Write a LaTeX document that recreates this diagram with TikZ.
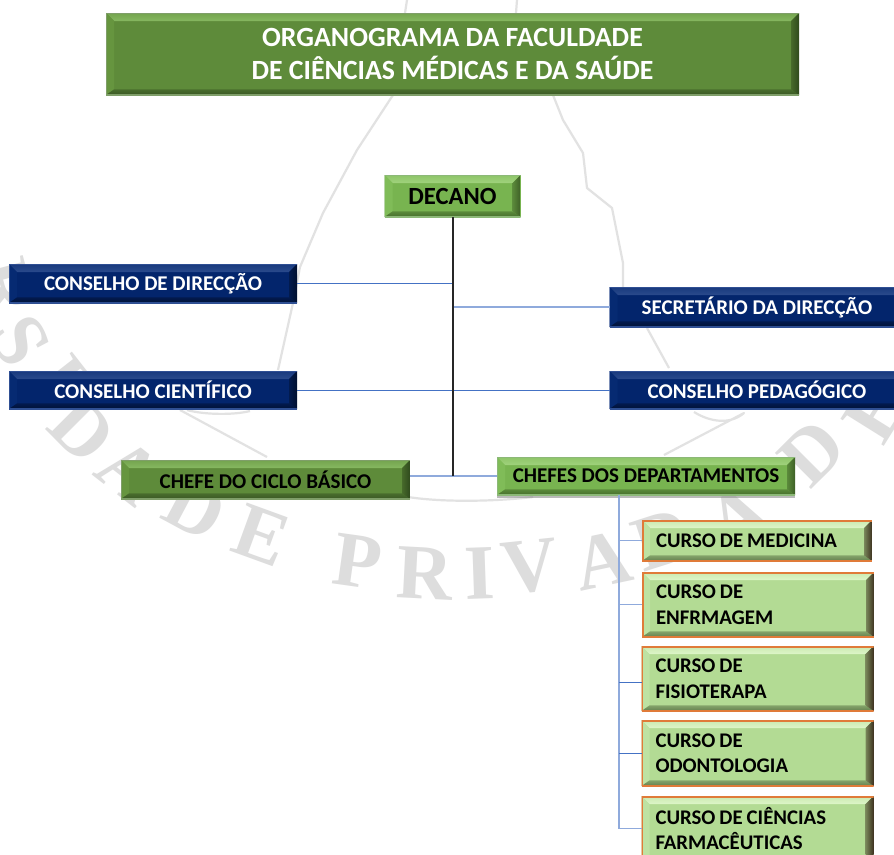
\documentclass[tikz,border=0pt]{standalone}
\usepackage{fontspec}
\setmainfont{Carlito}
\newfontfamily\wmfont{Liberation Serif}
\usetikzlibrary{shadows}
\definecolor{wm}{HTML}{DDDDDD}
\definecolor{wmlight}{HTML}{E2E2E2}
\definecolor{conA}{HTML}{4472C4}
\definecolor{conB}{HTML}{8FAADC}
\tikzset{
  x=1pt,y=-1pt,
  bevelbox/.style n args={8}{rectangle,inner sep=0pt,outer sep=0pt,fill=#1,font=\bfseries,
    path picture={
      \def\bv{#7pt}
      \coordinate (nw) at (path picture bounding box.north west);
      \coordinate (ne) at (path picture bounding box.north east);
      \coordinate (sw) at (path picture bounding box.south west);
      \coordinate (se) at (path picture bounding box.south east);
      \coordinate (inw) at ([xshift=\bv,yshift=-\bv]nw);
      \coordinate (ine) at ([xshift=-\bv,yshift=-\bv]ne);
      \coordinate (isw) at ([xshift=\bv,yshift=.7*\bv]sw);
      \coordinate (ise) at ([xshift=-\bv,yshift=.7*\bv]se);
      \shade[top color=#3!55!#1,bottom color=#3] (nw)--(ne)--(ine)--(inw)--cycle;
      \fill[#4] (nw)--(inw)--(isw)--(sw)--cycle;
      \shade[top color=#5!60!#1,bottom color=#5] (sw)--(isw)--(ise)--(se)--cycle;
      \shade[left color=#2!50!#1,right color=#2] (ne)--(ine)--(ise)--(se)--cycle;
      \draw[#6,line width=#8pt] (sw)--(nw)--(ne) (sw)--(se);
    }},
  titlebox/.style={bevelbox={ttl}{ttlR}{ttlT}{ttlL}{ttlB}{ttlF}{8}{1.6},text=white,font=\bfseries\fontsize{27.8}{33}\selectfont,align=center},
  navybox/.style={bevelbox={nav}{navR}{navT}{navL}{navB}{navF}{8}{1.4},text=white,font=\bfseries\fontsize{21}{24}\selectfont,align=center},
  greenbox/.style={bevelbox={grn}{grnR}{grnT}{grnL}{grnB}{grnF}{8}{1.6},text=black,font=\bfseries\fontsize{21}{24}\selectfont,align=center},
  cyclebox/.style={bevelbox={ttl}{ttlR}{ttlT}{ttlL}{ttlB}{ttlF}{8}{1.6},text=black,font=\bfseries\fontsize{21}{24}\selectfont,align=center},
  coursebox/.style={bevelbox={crs}{crsR}{crsT}{crsL}{crsB}{crsF}{8}{3},text=black,font=\bfseries\fontsize{20.8}{25.5}\selectfont,align=left,execute at begin node={\spaceskip=4pt\relax}},
  conn/.style={draw=conA,line width=.9pt},
  connB/.style={draw=conB,line width=1.1pt},
  spineline/.style={draw=black!85,line width=2pt},
  wmline/.style={draw=wmlight,line width=2.2pt,line join=round},
  wml/.style={text=wm,font=\wmfont\bfseries\fontsize{78}{78}\selectfont,inner sep=0pt},
}
\definecolor{ttl}{HTML}{5E8B3A}\definecolor{ttlR}{HTML}{2F4A1C}\definecolor{ttlT}{HTML}{86B860}
\definecolor{ttlL}{HTML}{66953F}\definecolor{ttlB}{HTML}{3A5824}\definecolor{ttlF}{HTML}{7F9E69}
\definecolor{nav}{HTML}{03256C}\definecolor{navR}{HTML}{01102F}\definecolor{navT}{HTML}{2A4A8C}
\definecolor{navL}{HTML}{062A72}\definecolor{navB}{HTML}{011238}\definecolor{navF}{HTML}{2F4F93}
\definecolor{grn}{HTML}{78B450}\definecolor{grnR}{HTML}{3E6026}\definecolor{grnT}{HTML}{A0D27C}
\definecolor{grnL}{HTML}{80BC58}\definecolor{grnB}{HTML}{466E2C}\definecolor{grnF}{HTML}{8CB878}
\definecolor{crs}{HTML}{B3DB94}\definecolor{crsR}{HTML}{3E3220}\definecolor{crsT}{HTML}{DDF5C8}
\definecolor{crsL}{HTML}{BEE2A2}\definecolor{crsB}{HTML}{647F4E}\definecolor{crsF}{HTML}{E07B39}
\begin{document}
\begin{tikzpicture}
\path[use as bounding box,clip] (0,0) rectangle (894,854);
\fill[white] (0,0) rectangle (894,854);
% watermark
\draw[wmline] (407,0) -- (405,13) (393,95) -- (357,150) -- (323,213) -- (300,267) -- (293,303) -- (278,370);
\draw[wmline] (517,0) -- (516,13);
\draw[wmline] (553,95) -- (563,120) -- (583,153) -- (587,188) -- (612,208) -- (623,263) -- (623,287)
  (647,328) -- (669,368);
\draw[wmline] (694,412) .. controls (710,422) and (730,425) .. (744,413) -- (664,455);
\draw[wmline] (180,410) -- (267,457) (187,410) .. controls (205,415) and (235,415) .. (250,411);
\draw[wmline] (408,497) .. controls (440,502) and (490,502) .. (533,497);
\node[wml,rotate=-75] (w1) at (5,288) {R};
\node[wml,rotate=-62] (w2) at (20,341) {S};
\node[wml,rotate=-52] (w3) at (60,378) {I};
\node[wml,rotate=-45] (w4) at (82,430) {D};
\node[wml,rotate=-38] (w5) at (130,472) {A};
\node[wml,rotate=-28] (w6) at (195,508) {D};
\node[wml,rotate=-20] (w7) at (262,535) {E};
\node[wml,rotate=-8] (w8) at (358,562) {P};
\node[wml,rotate=-3] (w9) at (425,573) {R};
\node[wml,rotate=2] (w10) at (480,573) {I};
\node[wml,rotate=6] (w11) at (530,567) {V};
\node[wml,rotate=12] (w12) at (603,560) {A};
\node[wml,rotate=18] (w13) at (662,540) {D};
\node[wml,rotate=28] (w14) at (738,518) {A};
\node[wml,rotate=45] (w15) at (812,453) {D};
\node[wml,rotate=58] (w16) at (876,412) {E};
% boxes
\node[titlebox,minimum width=693pt,minimum height=82pt] (title) at (452.5,54) {ORGANOGRAMA DA FACULDADE\\DE CIÊNCIAS MÉDICAS E DA SAÚDE};
\node[greenbox,minimum width=136pt,minimum height=42pt,font=\bfseries\fontsize{24.7}{26}\selectfont] (dec) at (452.5,196) {DECANO};
\node[navybox,minimum width=288pt,minimum height=39pt] (dir) at (153,283.5) {CONSELHO DE DIRECÇÃO};
\node[navybox,minimum width=288pt,minimum height=38pt] (cie) at (153,390) {CONSELHO CIENTÍFICO};
\node[navybox,minimum width=295pt,minimum height=40pt] (sec) at (757,307) {SECRETÁRIO DA DIRECÇÃO};
\node[navybox,minimum width=295pt,minimum height=38pt] (ped) at (757,390) {CONSELHO PEDAGÓGICO};
\node[cyclebox,minimum width=289pt,minimum height=39pt] (cic) at (265.5,479.5) {CHEFE DO CICLO BÁSICO};
\node[greenbox,minimum width=298pt,minimum height=38pt,drop shadow={shadow xshift=0pt,shadow yshift=-3pt,fill=black!45,opacity=.6}] (chf) at (646,476) {CHEFES DOS DEPARTAMENTOS};
\node[coursebox,minimum width=230pt,minimum height=41pt,text width=202pt] (c1) at (757,540.5) {CURSO DE MEDICINA};
\node[coursebox,minimum width=232pt,minimum height=65pt,text width=204pt] (c2) at (758,604.5) {CURSO DE\\ENFRMAGEM};
\node[coursebox,minimum width=232pt,minimum height=65pt,text width=204pt] (c3) at (757.5,678.5) {CURSO DE\\FISIOTERAPA};
\node[coursebox,minimum width=232pt,minimum height=66pt,text width=204pt] (c4) at (757.5,753) {CURSO DE\\ODONTOLOGIA};
\node[coursebox,minimum width=232pt,minimum height=65pt,text width=204pt] (c5) at (757.5,828.5) {CURSO DE CIÊNCIAS\\FARMACÊUTICAS};
% connectors
\coordinate (trunk) at (619,495);
\draw[conn] (dir.east) -- (dir.east -| dec.south);
\draw[connB] (sec.west) -- (sec.west -| dec.south);
\draw[conn] (cie.east) -- (ped.west);
\draw[connB] (chf.west) -- (chf.west -| cic.east);
\draw[spineline] (dec.south) -- (dec.south |- chf.west);
\draw[connB] (trunk) -- (trunk |- c5.west) -- (c5.west);
\draw[connB] (trunk |- c1.west) -- (c1.west);
\draw[connB] (trunk |- c2.west) -- (c2.west);
\draw[conn] ([yshift=-4pt]trunk |- c3.west) -- ([yshift=-4pt]c3.west);
\draw[conn] (trunk |- c4.west) -- (c4.west);
\end{tikzpicture}
\end{document}
